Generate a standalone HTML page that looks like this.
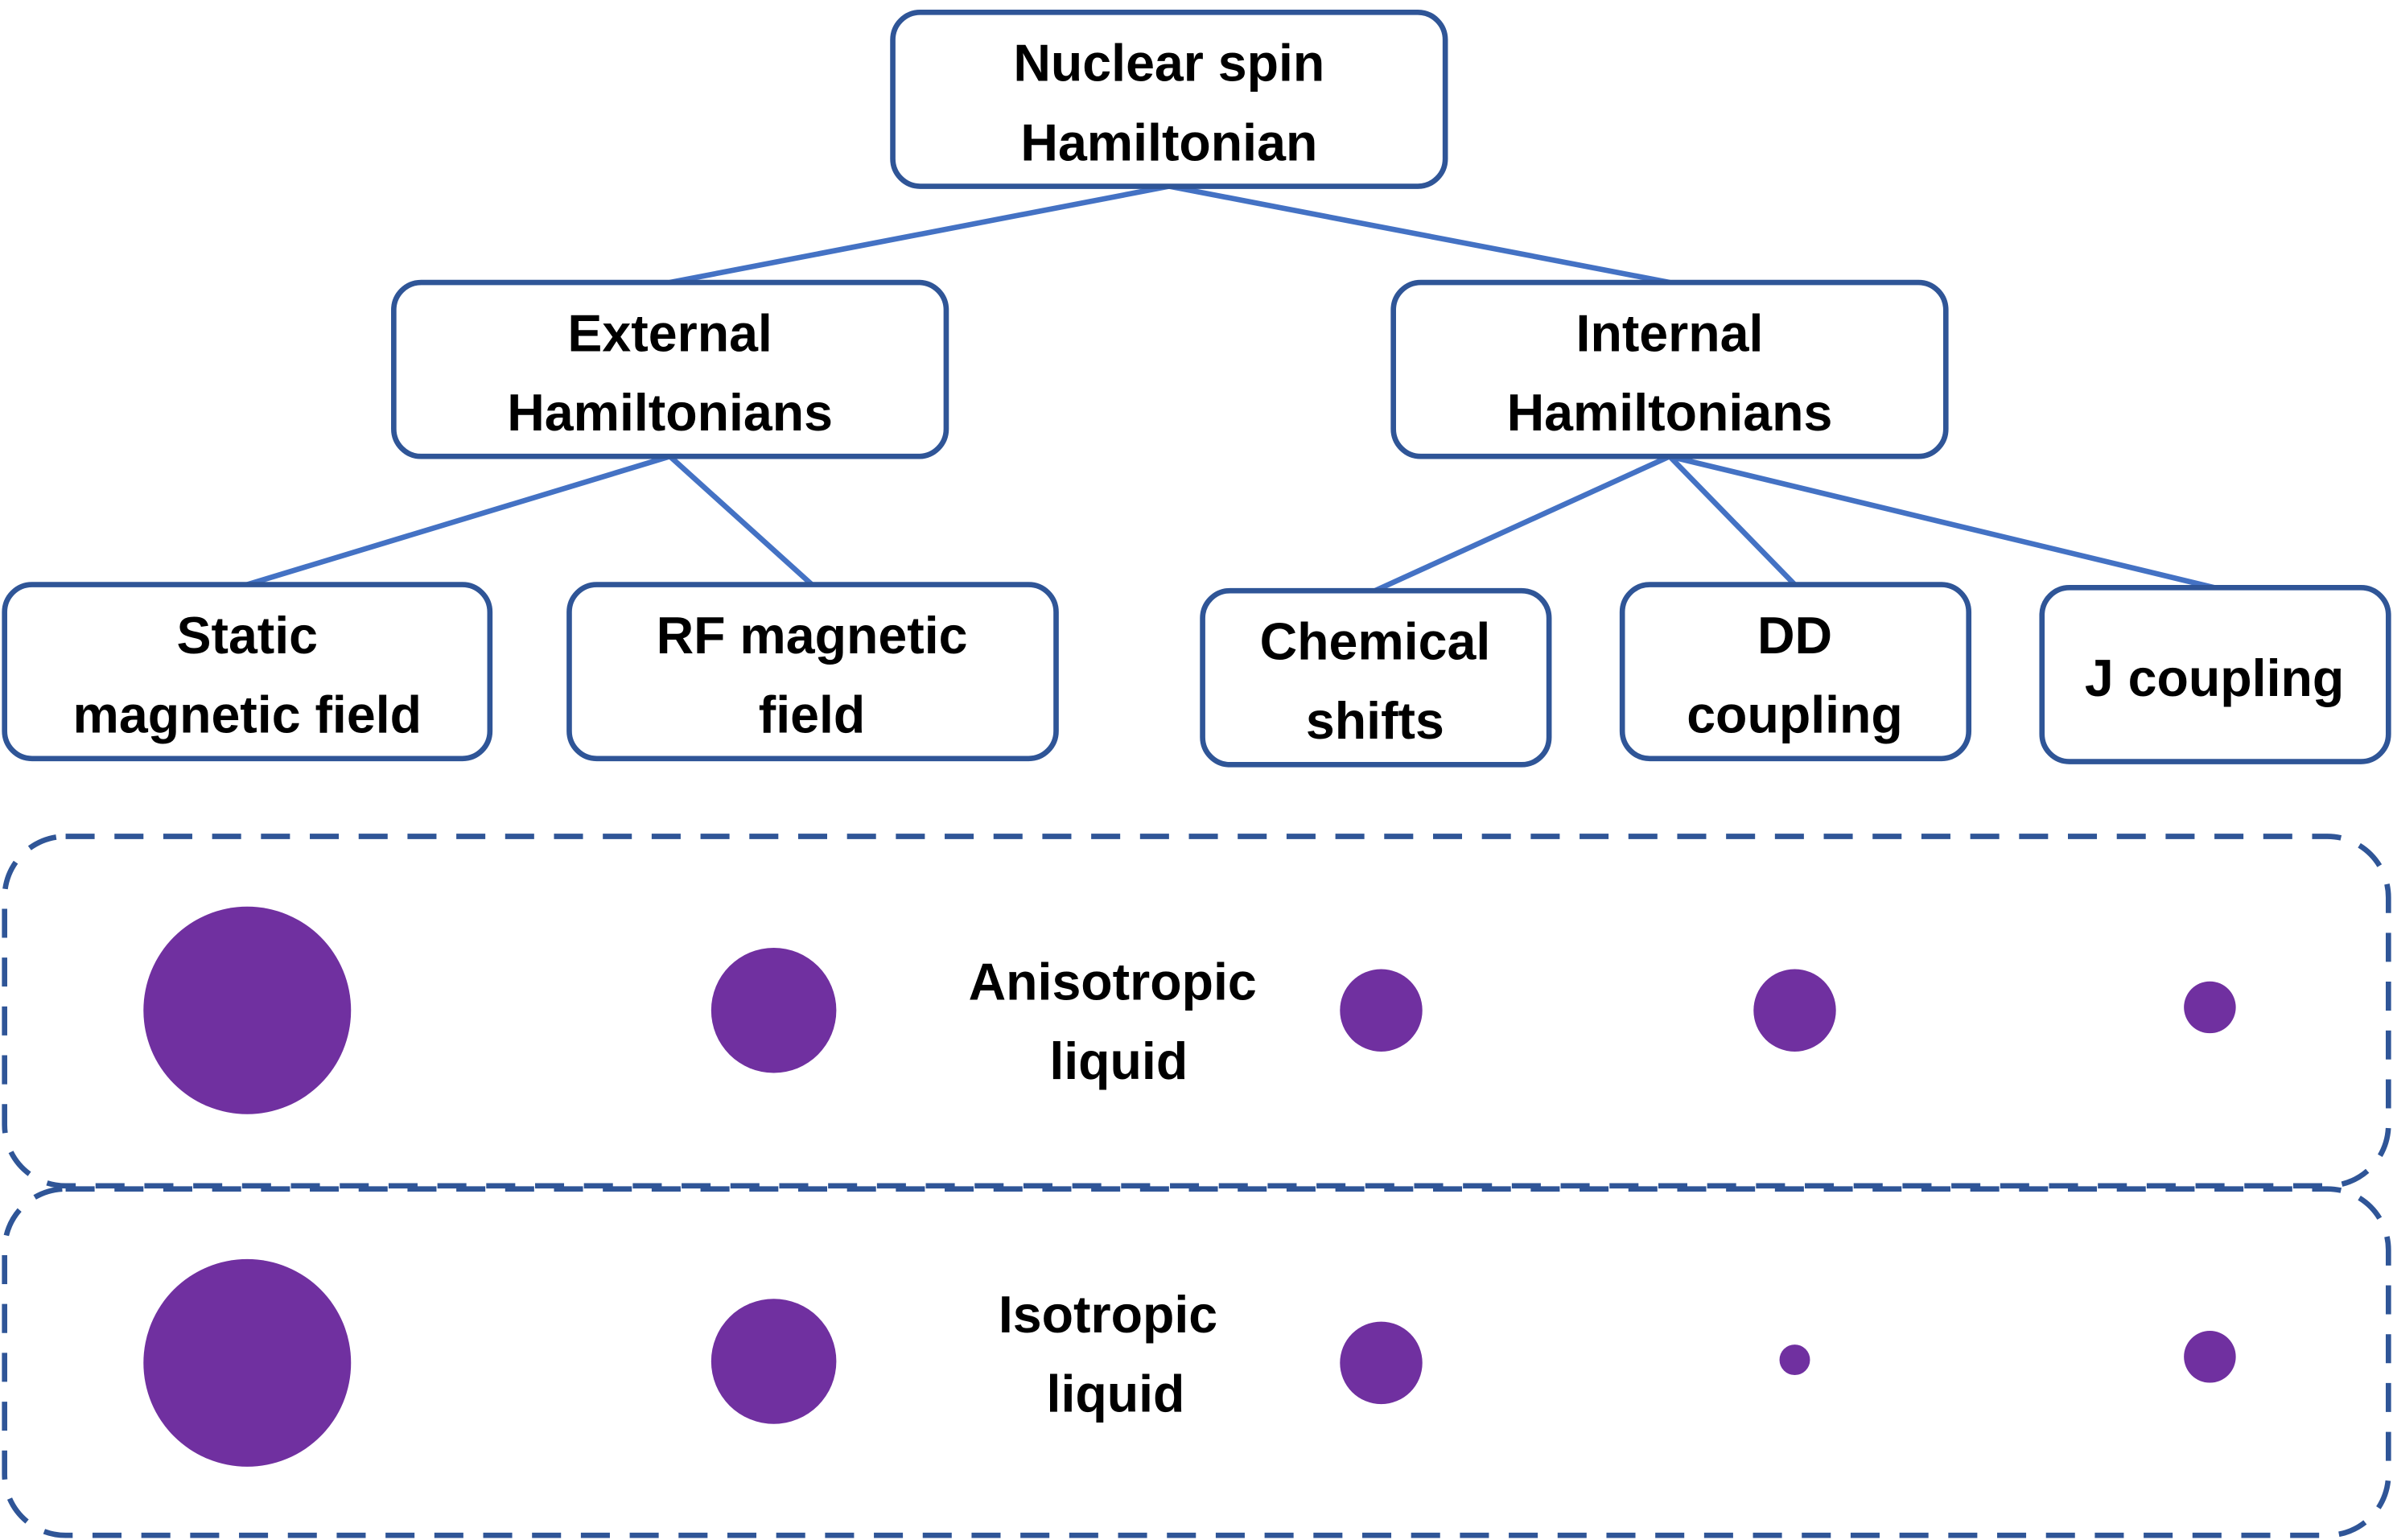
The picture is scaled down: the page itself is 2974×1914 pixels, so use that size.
<!DOCTYPE html>
<html><head><style>html,body{margin:0;padding:0;background:#fff}svg{display:block}</style></head>
<body>
<svg width="2974" height="1914" viewBox="0 0 1568 1009" xmlns="http://www.w3.org/2000/svg">
<g stroke="#4472c4" stroke-width="3.5" fill="none">
<line x1="766" y1="122" x2="439" y2="185"/>
<line x1="766" y1="122" x2="1094" y2="185"/>
<line x1="439" y1="299" x2="162" y2="383"/>
<line x1="439" y1="299" x2="532" y2="383"/>
<line x1="1094" y1="299" x2="901" y2="387"/>
<line x1="1094" y1="299" x2="1176" y2="383"/>
<line x1="1094" y1="299" x2="1451" y2="385"/>
</g>
<g stroke="#2f5597" stroke-width="3.5" fill="#fff">
<rect x="585" y="8" width="362" height="114" rx="18"/>
<rect x="258" y="185" width="362" height="114" rx="18"/>
<rect x="913" y="185" width="362" height="114" rx="18"/>
<rect x="3" y="383" width="318" height="114" rx="18"/>
<rect x="373" y="383" width="319" height="114" rx="18"/>
<rect x="788" y="387" width="227" height="114" rx="18"/>
<rect x="1063" y="383" width="227" height="114" rx="18"/>
<rect x="1338" y="385" width="227" height="114" rx="18"/>
</g>
<g stroke="#2f5597" stroke-width="3.5" fill="none" stroke-dasharray="19 13">
<rect x="3" y="548" width="1562" height="229" rx="40"/>
<rect x="3" y="779" width="1562" height="227" rx="40"/>
</g>
<g fill="#7030a0">
<circle cx="162" cy="662" r="68"/><circle cx="507" cy="662" r="41"/><circle cx="905" cy="662" r="27"/><circle cx="1176" cy="662" r="27"/><circle cx="1448" cy="660" r="17"/>
<circle cx="162" cy="893" r="68"/><circle cx="507" cy="892" r="41"/><circle cx="905" cy="893" r="27"/><circle cx="1176" cy="891" r="10"/><circle cx="1448" cy="889" r="17"/>
</g>
<g font-family="Liberation Sans, sans-serif" font-weight="bold" font-size="34" fill="#000" text-anchor="middle">
<text x="766" y="53">Nuclear spin</text><text x="766" y="105">Hamiltonian</text>
<text x="439" y="230">External</text><text x="439" y="282">Hamiltonians</text>
<text x="1094" y="230">Internal</text><text x="1094" y="282">Hamiltonians</text>
<text x="162" y="428">Static</text><text x="162" y="480">magnetic field</text>
<text x="532" y="428">RF magnetic</text><text x="532" y="480">field</text>
<text x="901" y="432">Chemical</text><text x="901" y="484">shifts</text>
<text x="1176" y="428">DD</text><text x="1176" y="480">coupling</text>
<text x="1451" y="456">J coupling</text>
<text x="729" y="655">Anisotropic</text><text x="733" y="707">liquid</text>
<text x="726" y="873">Isotropic</text><text x="731" y="925">liquid</text>
</g>
</svg>
</body></html>
